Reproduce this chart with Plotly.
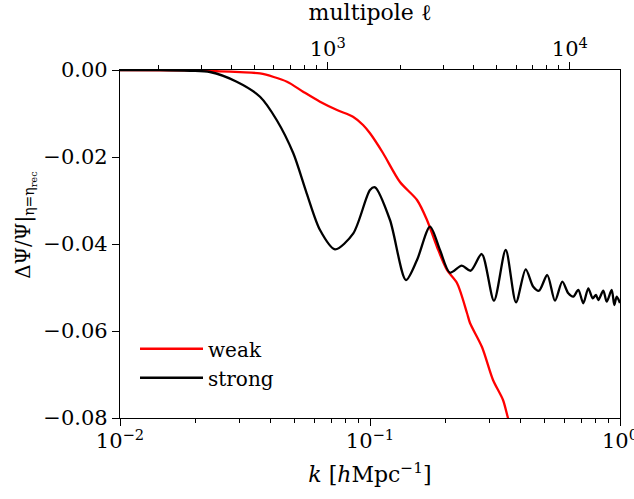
import plotly.graph_objects as go

# ---- data ----
k_weak = [0.01, 0.0209, 0.0251, 0.0302, 0.0363, 0.04656, 0.0540, 0.0631, 0.0738, 0.0855,
          0.0938, 0.1, 0.1127, 0.1318, 0.1542, 0.1690, 0.1854, 0.2032, 0.2228, 0.2443,
          0.2512, 0.2805, 0.3105, 0.3404, 0.3565, 0.380]
psi_weak = [0.0, -0.0001, -0.0003, -0.0005, -0.0008, -0.00269, -0.00499, -0.00729, -0.0092, -0.01074,
            -0.01264, -0.01455, -0.01908, -0.02575, -0.02989, -0.03448, -0.04069, -0.04598, -0.04897, -0.05586,
            -0.05816, -0.06368, -0.07126, -0.07586, -0.0800, -0.0850]

k_strong = [0.01, 0.01445, 0.01905, 0.02291, 0.02929, 0.03631, 0.04233, 0.04934, 0.05581, 0.0631,
            0.07244, 0.08575, 0.1, 0.1047, 0.1202, 0.1393, 0.1542, 0.1738, 0.1905, 0.2089,
            0.2327, 0.2528, 0.2798, 0.3133, 0.3490, 0.3837, 0.4196, 0.4498, 0.4742, 0.5118,
            0.5495, 0.5877, 0.6212, 0.6504, 0.6811, 0.7132, 0.7468, 0.7777, 0.8017, 0.8189,
            0.8575, 0.8847, 0.9264, 0.9489, 0.9701, 1.0]
psi_strong = [0.0, -0.00002, -0.00018, -0.00046, -0.00269, -0.00614, -0.01149, -0.01915, -0.02834, -0.03678,
              -0.04122, -0.03754, -0.02759, -0.02697, -0.03448, -0.04828, -0.04368, -0.03602, -0.04138, -0.0466,
              -0.04499, -0.04614, -0.0423, -0.05303, -0.04138, -0.0534, -0.04582, -0.04982, -0.05074, -0.04713,
              -0.05303, -0.04867, -0.05133, -0.05211, -0.05057, -0.05363, -0.05018, -0.05248, -0.05172, -0.05287,
              -0.05074, -0.05326, -0.05057, -0.05402, -0.05211, -0.05356]

k_range_log = [-2, 0]
k_tickvals = [0.01, 0.1, 1.0]
k_ticktext = ["10<sup>−2</sup>", "10<sup>−1</sup>", "10<sup>0</sup>"]
k_minor = [m * d for d in (0.01, 0.1) for m in range(2, 10)]

y_tickvals = [0.0, -0.02, -0.04, -0.06, -0.08]
y_ticktext = ["0.00", "−0.02", "−0.04", "−0.06", "−0.08"]

ell_range_log = [2.1424, 4.2069]
ell_tickvals = [1000, 10000]
ell_ticktext = ["10<sup>3</sup>", "10<sup>4</sup>"]
ell_minor = [m * d for d in (100, 1000) for m in range(2, 10)]

FONT = "DejaVu Serif"

fig = go.Figure()
fig.add_trace(go.Scatter(x=k_weak, y=psi_weak, mode="lines", name="weak",
                         line=dict(color="#ff0000", width=2.3, shape="spline", smoothing=0.8)))
fig.add_trace(go.Scatter(x=k_strong, y=psi_strong, mode="lines", name="strong",
                         line=dict(color="#000000", width=2.3, shape="spline", smoothing=0.8)))
# invisible anchor traces for the extra axes (top multipole axis and long major-tick axes)
for ax, rng in (("x2", ell_range_log), ("x3", k_range_log), ("x4", ell_range_log)):
    fig.add_trace(go.Scatter(x=[10 ** rng[0], 10 ** rng[1]], y=[None, None], xaxis=ax,
                             mode="lines", showlegend=False, hoverinfo="skip"))

tickfont = dict(family=FONT, size=21, color="black")
base = dict(showgrid=False, zeroline=False, linecolor="black", linewidth=1.3,
            ticks="outside", tickcolor="black", tickfont=tickfont,
            ticklabeloverflow="allow", automargin=False)

# labelled axes carry both major and minor tick positions (short ticks)
x_vals = k_tickvals + k_minor
x_text = k_ticktext + [""] * len(k_minor)
l_vals = ell_tickvals + ell_minor
l_text = ell_ticktext + [""] * len(ell_minor)

fig.update_layout(
    template="none",
    width=634, height=499,
    margin=dict(l=120, r=14, t=70, b=81, autoexpand=False),
    paper_bgcolor="white", plot_bgcolor="white",
    font=dict(family=FONT, size=20, color="black"),
    xaxis=dict(type="log", range=k_range_log, tickmode="array", tickvals=x_vals, ticktext=x_text,
               showline=True, ticklen=4, tickwidth=1,
               title=dict(text="<i>k</i> [<i>h</i>Mpc<sup>−1</sup>]", font=dict(family=FONT, size=22),
                          standoff=14),
               **base),
    xaxis2=dict(type="log", overlaying="x", side="top", anchor="y", range=ell_range_log, tickmode="array",
                tickvals=l_vals, ticktext=l_text, showline=True, ticklen=4, tickwidth=1,
                title=dict(text="multipole ℓ", font=dict(family=FONT, size=22), standoff=8),
                **base),
    xaxis3=dict(type="log", overlaying="x", side="bottom", anchor="y", range=k_range_log,
                tickmode="array", tickvals=k_tickvals, ticktext=[" "] * len(k_tickvals),
                showline=False, ticklen=7, tickwidth=1.2, **base),
    xaxis4=dict(type="log", overlaying="x", side="top", anchor="y", range=ell_range_log,
                tickmode="array", tickvals=ell_tickvals, ticktext=[" "] * len(ell_tickvals),
                showline=False, ticklen=7, tickwidth=1.2, **base),
    yaxis=dict(range=[-0.08, 0], tickmode="array", tickvals=y_tickvals, ticktext=y_ticktext,
               mirror=True, showline=True, ticklen=7, tickwidth=1.2, **base),
    legend=dict(x=0.03, y=0.255, xanchor="left", yanchor="top", bgcolor="rgba(0,0,0,0)",
                borderwidth=0, itemwidth=63, font=dict(family=FONT, size=20)),
    annotations=[dict(text="ΔΨ/Ψ|<sub>η=η<sub>rec</sub></sub>", xref="paper", yref="paper",
                      x=-0.19, y=0.555, showarrow=False, textangle=-90,
                      font=dict(family=FONT, size=20), xanchor="center", yanchor="middle")],
)

fig.write_html("out.html")
